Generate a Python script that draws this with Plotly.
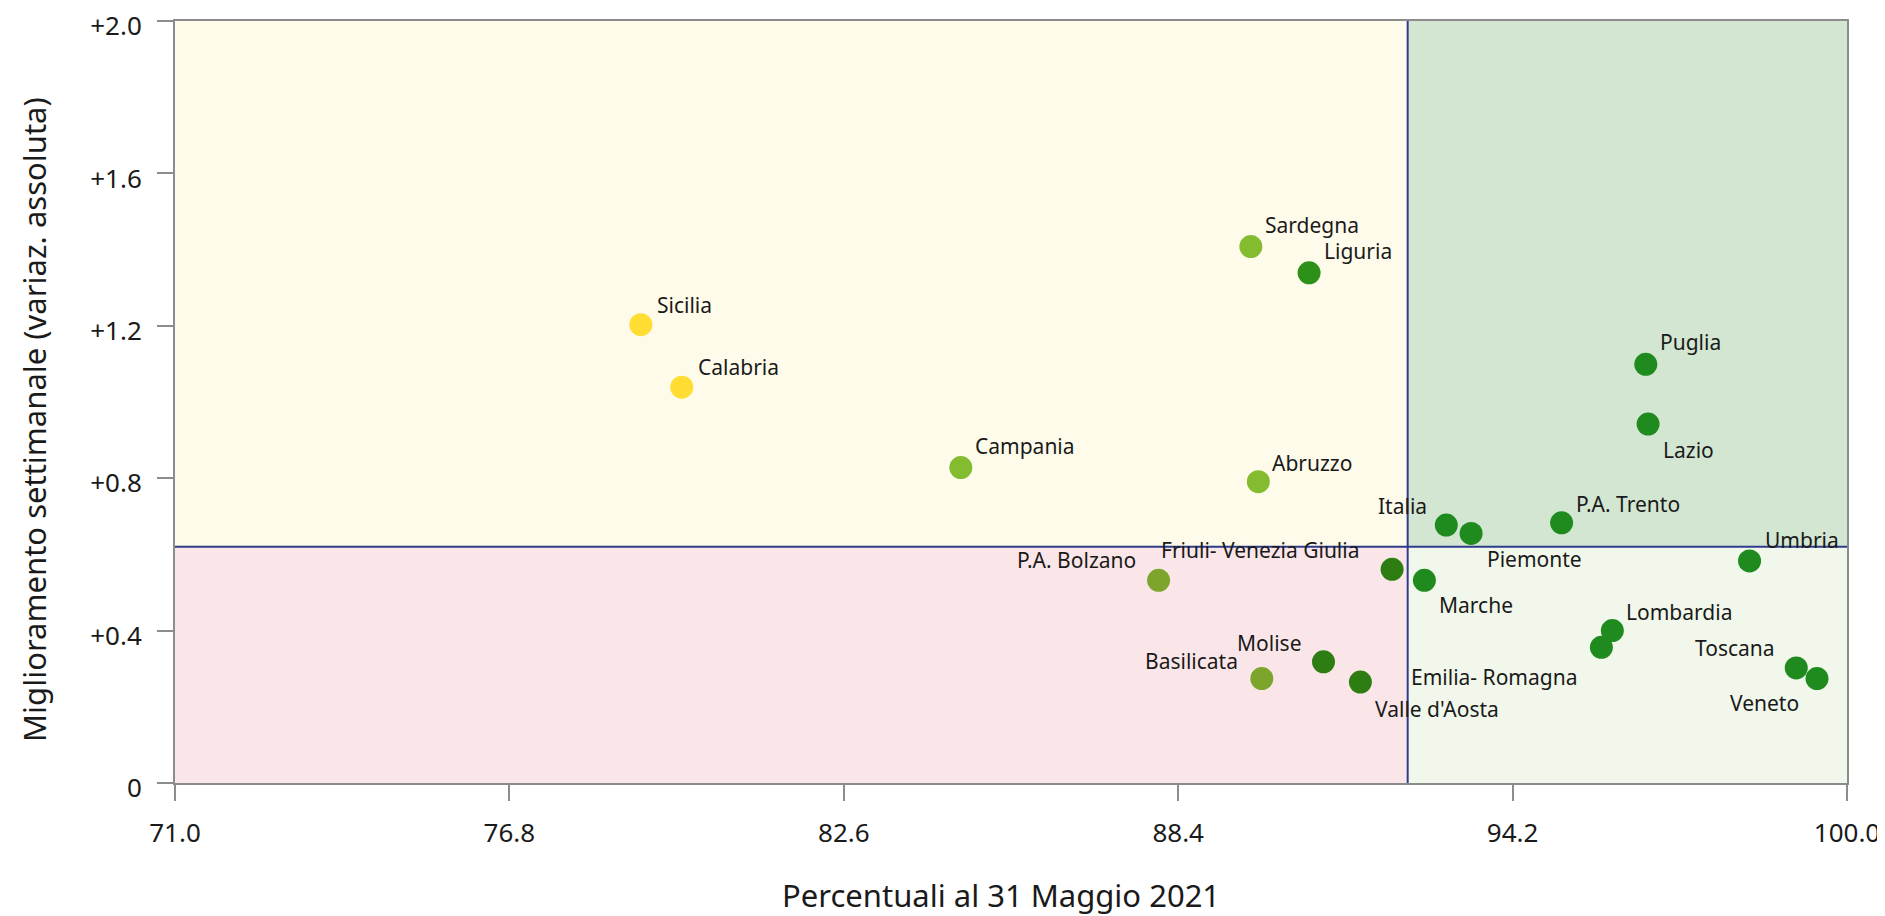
import plotly.graph_objects as go

regions = ["Sicilia", "Calabria", "Campania", "Sardegna", "Liguria", "Abruzzo",
           "Puglia", "Lazio", "Italia", "Piemonte", "P.A. Trento", "Umbria",
           "Friuli- Venezia Giulia", "Marche", "P.A. Bolzano", "Lombardia",
           "Emilia- Romagna", "Molise", "Basilicata", "Valle d'Aosta", "Toscana", "Veneto"]
pct_may31 = [79.08, 79.79, 84.63, 89.66, 90.67, 89.79,
             96.51, 96.55, 93.05, 93.48, 95.05, 98.31,
             92.11, 92.67, 88.06, 95.93,
             95.74, 90.92, 89.85, 91.56, 99.12, 99.48]
weekly_improvement = [1.203, 1.039, 0.828, 1.408, 1.339, 0.791,
                      1.099, 0.942, 0.677, 0.655, 0.683, 0.583,
                      0.561, 0.532, 0.532, 0.400,
                      0.356, 0.318, 0.274, 0.265, 0.302, 0.274]
point_colors = ["#FFDD33", "#FFDD33", "#84BC2F", "#84BC2F", "#2D9018", "#84BC2F",
                "#1F8B1F", "#1F8B1F", "#1F8B1F", "#1F8B1F", "#1F8B1F", "#1F8B1F",
                "#2E7D12", "#1F8B1F", "#7DA52B", "#1F8B1F",
                "#1F8B1F", "#2E7D12", "#7DA52B", "#2E7D12", "#1F8B1F", "#1F8B1F"]
# label placement: (xanchor, xshift px, yshift px)
label_pos = [("left", 14, 20), ("left", 14, 20), ("left", 12, 22), ("left", 12, 22), ("left", 13, 22), ("left", 12, 19),
             ("left", 12, 22), ("left", 13, -26), ("right", -17, 19), ("left", 14, -26), ("left", 12, 19), ("left", 13, 21),
             ("right", -30, 19), ("left", 13, -25), ("right", -21, 20), ("left", 12, 19),
             ("right", -22, -30), ("right", -19, 19), ("right", -22, 18), ("left", 13, -27), ("right", -19, 20), ("right", -16, -24)]

x_ticks = [71.0, 76.8, 82.6, 88.4, 94.2, 100.0]
x_ticktext = ["71.0", "76.8", "82.6", "88.4", "94.2", "100.0"]
y_ticks = [0, 0.4, 0.8, 1.2, 1.6, 2.0]
y_ticktext = ["0", "+0.4", "+0.8", "+1.2", "+1.6", "+2.0"]
x_range = [71.0, 100.0]
y_range = [0, 2.0]
x_threshold = 92.38
y_threshold = 0.62
x_title = "Percentuali al 31 Maggio 2021"
y_title = "Miglioramento settimanale (variaz. assoluta)"

FONT = "Noto Sans"
TXT = "#1A1A1A"

fig = go.Figure()

quads = [
    (x_range[0], x_threshold, y_threshold, y_range[1], "#FEFBEA"),
    (x_threshold, x_range[1], y_threshold, y_range[1], "#D2E6D2"),
    (x_range[0], x_threshold, y_range[0], y_threshold, "#FAE6E8"),
    (x_threshold, x_range[1], y_range[0], y_threshold, "#F1F7EA"),
]
for x0, x1, y0, y1, c in quads:
    fig.add_shape(type="rect", x0=x0, x1=x1, y0=y0, y1=y1, fillcolor=c,
                  line=dict(width=0), layer="below")

fig.add_shape(type="line", x0=x_threshold, x1=x_threshold, y0=y_range[0], y1=y_range[1],
              line=dict(color="#2E3C8C", width=2), layer="below")
fig.add_shape(type="line", x0=x_range[0], x1=x_range[1], y0=y_threshold, y1=y_threshold,
              line=dict(color="#2E3C8C", width=2), layer="below")

fig.add_trace(go.Scatter(
    x=pct_may31, y=weekly_improvement, mode="markers",
    marker=dict(size=23, color=point_colors, line=dict(width=0)),
    text=regions, hoverinfo="text", showlegend=False, cliponaxis=False))

for name, xv, yv, (anc, dx, dy) in zip(regions, pct_may31, weekly_improvement, label_pos):
    fig.add_annotation(x=xv, y=yv, text=name, showarrow=False, xanchor=anc, yanchor="middle",
                       xshift=dx, yshift=dy, font=dict(family=FONT, size=21, color=TXT))

# axis titles
fig.add_annotation(x=0.5, y=0, xref="paper", yref="paper", text=x_title, showarrow=False,
                   xanchor="center", yanchor="middle", xshift=-10, yshift=-112,
                   font=dict(family=FONT, size=31, color=TXT))
fig.add_annotation(x=0, y=0.5, xref="paper", yref="paper", text=y_title, showarrow=False,
                   textangle=-90, xanchor="center", yanchor="middle", xshift=-141, yshift=-18,
                   font=dict(family=FONT, size=31, color=TXT))

axis_common = dict(showgrid=False, zeroline=False, showline=True, linecolor="#8C8C8C",
                   linewidth=2, mirror=True, ticks="outside", tickcolor="#8C8C8C",
                   tickwidth=2, ticklen=16, ticklabeloverflow="allow", automargin=False,
                   tickfont=dict(family=FONT, size=26, color=TXT))

fig.update_xaxes(range=x_range, tickvals=x_ticks, ticktext=x_ticktext,
                 ticklabelstandoff=10, **axis_common)
fig.update_yaxes(range=y_range, tickvals=y_ticks, ticktext=y_ticktext,
                 ticklabelstandoff=10, ticklabelshift=5, **axis_common)

fig.update_layout(width=1885, height=916, paper_bgcolor="white", plot_bgcolor="white",
                  margin=dict(l=167, r=46, t=13, b=141, autoexpand=False), font=dict(family=FONT))

fig.write_html("out.html")
